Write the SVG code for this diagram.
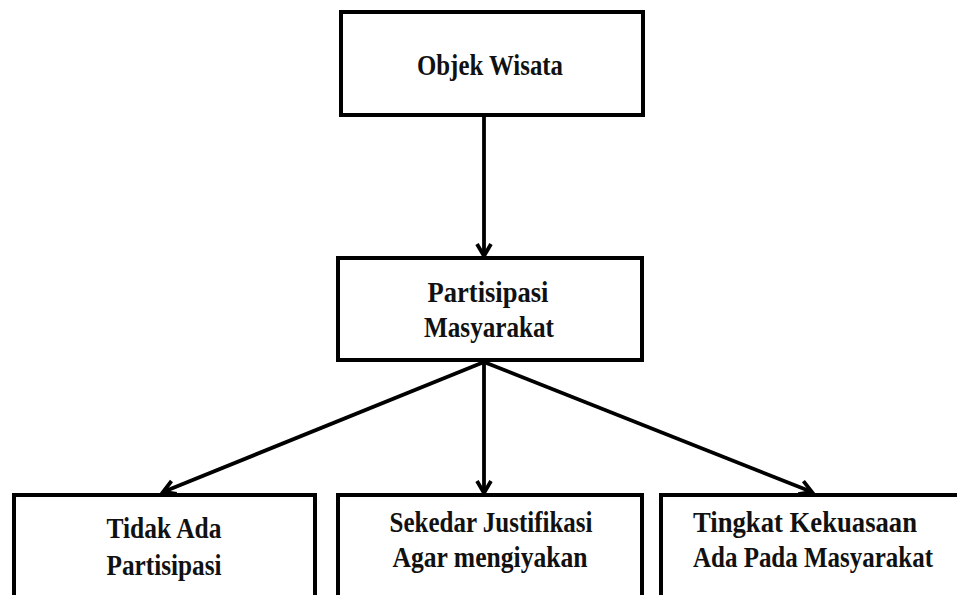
<svg xmlns="http://www.w3.org/2000/svg" width="957" height="595" viewBox="0 0 957 595">
<style>
.box{fill:#fff;stroke:#000;stroke-width:4}
.t{font-family:"Liberation Serif","Times New Roman",serif;font-weight:bold;font-size:30px;fill:#111;text-anchor:middle}
.c{stroke:#000;stroke-width:3.8;fill:none}
</style>
<defs>
<marker id="ah" markerUnits="userSpaceOnUse" markerWidth="20" markerHeight="20" viewBox="-14 -10 16 20" refX="0" refY="0" orient="auto">
<path d="M-12,-7 L0,0 L-12,7" fill="none" stroke="#000" stroke-width="3.8" stroke-linejoin="miter"/>
</marker>
</defs>
<rect width="957" height="595" fill="#fff"/>
<g id="connectors">
<line class="c" x1="484" y1="116" x2="484" y2="256" marker-end="url(#ah)"/>
<line class="c" x1="484" y1="362" x2="163" y2="492" marker-end="url(#ah)"/>
<line class="c" x1="484" y1="362" x2="484" y2="493" marker-end="url(#ah)"/>
<line class="c" x1="484" y1="362" x2="812" y2="492" marker-end="url(#ah)"/>
</g>
<g id="objek-wisata">
<rect class="box" x="341" y="12" width="302" height="103"/>
<text class="t" x="490" y="75" textLength="146" lengthAdjust="spacingAndGlyphs">Objek Wisata</text>
</g>
<g id="partisipasi-masyarakat">
<rect class="box" x="338" y="258" width="304" height="102"/>
<text class="t" x="488" y="302" textLength="121" lengthAdjust="spacingAndGlyphs">Partisipasi</text>
<text class="t" x="489" y="337" textLength="130" lengthAdjust="spacingAndGlyphs">Masyarakat</text>
</g>
<g id="tidak-ada">
<path class="box" d="M14,595 V495 H315 V595"/>
<text class="t" x="164" y="538" textLength="115" lengthAdjust="spacingAndGlyphs">Tidak Ada</text>
<text class="t" x="164" y="575" textLength="115" lengthAdjust="spacingAndGlyphs">Partisipasi</text>
</g>
<g id="sekedar-justifikasi">
<path class="box" d="M338,595 V495 H642 V595"/>
<text class="t" x="491" y="532" textLength="203" lengthAdjust="spacingAndGlyphs">Sekedar Justifikasi</text>
<text class="t" x="490" y="567" textLength="195" lengthAdjust="spacingAndGlyphs">Agar mengiyakan</text>
</g>
<g id="tingkat-kekuasaan">
<path class="box" d="M661,595 V495 H957"/>
<text class="t" x="805" y="532" textLength="224" lengthAdjust="spacingAndGlyphs">Tingkat Kekuasaan</text>
<text class="t" transform="translate(813,567) scale(0.833,1)" x="0" y="0">Ada Pada Masyarakat</text>
</g>
</svg>
